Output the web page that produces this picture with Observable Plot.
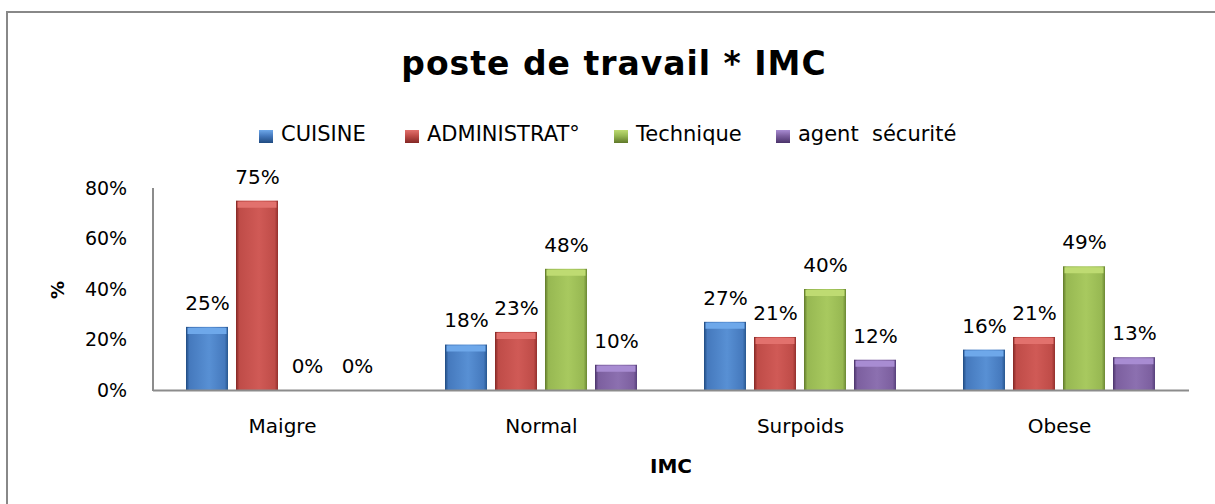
<!DOCTYPE html>
<html>
<head>
<meta charset="utf-8">
<script src="https://cdn.jsdelivr.net/npm/d3@7"></script>
<script src="https://cdn.jsdelivr.net/npm/@observablehq/plot@0.6"></script>
<style>
  html, body { margin: 0; padding: 0; background: #fff; }
  #wrap { position: relative; width: 1215px; height: 504px; overflow: hidden; font-family: "DejaVu Sans", sans-serif; color: #000; }
  #frame { position: absolute; left: 6px; top: 11px; width: 1400px; height: 700px; border: 2px solid #888; box-sizing: border-box; }
  #chart { position: absolute; left: 0; top: 0; }
  .ov { position: absolute; line-height: 1; white-space: pre; }
  #title { left: 0; width: 1228px; text-align: center; top: 47px; font-size: 33px; font-weight: bold; letter-spacing: 1px; }
  .leg { position: absolute; top: 124px; font-size: 21px; line-height: 1; white-space: pre; }
  .sw { position: absolute; width: 14px; height: 13px; top: 130px; }
  #xlab { left: 0; width: 1342px; text-align: center; top: 456px; font-size: 20px; font-weight: bold; }
  #ylab { left: 58px; top: 290px; font-size: 18px; font-weight: bold; transform: translate(-50%, -50%) rotate(-90deg); }
</style>
</head>
<body>
<div id="wrap">
  <div id="frame"></div>
  <div id="chart"></div>
  <div id="title" class="ov">poste de travail * IMC</div>
  <div id="legend"></div>
  <div id="xlab" class="ov">IMC</div>
  <div id="ylab" class="ov">%</div>
</div>
<script>
const categories = ["Maigre", "Normal", "Surpoids", "Obese"];
const seriesNames = ["CUISINE", "ADMINISTRAT°", "Technique", "agent  sécurité"];
const cuisine = [0.25, 0.18, 0.27, 0.16];
const administratif = [0.75, 0.23, 0.21, 0.21];
const technique = [0.00, 0.48, 0.40, 0.49];
const agentSecurite = [0.00, 0.10, 0.12, 0.13];
const yTicks = [0, 0.2, 0.4, 0.6, 0.8];

const seriesValues = [cuisine, administratif, technique, agentSecurite];
const gradIds = ["gBlue", "gRed", "gGreen", "gPurple"];
const capColors = ["#6ea8ea", "#e2716d", "#bedb72", "#a88cd2"];
const legendLeft = [259, 405, 614, 776];

const data = [];
seriesNames.forEach((s, i) => {
  categories.forEach((c, j) => {
    data.push({imc: c, serie: s, value: seriesValues[i][j], idx: i});
  });
});

const W = 1215, H = 504, mL = 153, mR = 26, mT = 188, mB = 114;
const fxPadIn = 0.25, fxPadOut = 0.125;
const fxStep = (W - mL - mR) / (categories.length - fxPadIn + 2 * fxPadOut);
const firstFacetOffset = fxStep * fxPadOut;

const marks = [];
seriesNames.forEach((s, i) => {
  const sub = data.filter(d => d.serie === s && d.value > 0);
  marks.push(Plot.barY(sub, {fx: "imc", x: "serie", y: "value", fill: `url(#${gradIds[i]})`}));
  marks.push(Plot.tickY(sub, {fx: "imc", x: "serie", y: "value", stroke: capColors[i], strokeWidth: 6, dy: 3.5, insetLeft: 1.5, insetRight: 1.5}));
});
marks.push(Plot.text(data, {fx: "imc", x: "serie", y: "value", text: d => Math.round(d.value * 100) + "%", dy: -24, fontSize: 20}));
marks.push(Plot.axisY({ticks: yTicks, tickFormat: d => Math.round(d * 100) + "%", tickSize: 0, tickPadding: 26 + firstFacetOffset, fontSize: 19, label: null}));
marks.push(Plot.axisFx({anchor: "bottom", tickSize: 0, tickPadding: 28, fontSize: 20, label: null}));

const svg = Plot.plot({
  width: W, height: H,
  marginLeft: mL, marginRight: mR, marginTop: mT, marginBottom: mB,
  style: {fontFamily: "DejaVu Sans", fontSize: "20px", color: "#000", background: "transparent", overflow: "visible"},
  fx: {domain: categories, paddingInner: fxPadIn, paddingOuter: fxPadOut},
  x: {domain: seriesNames, paddingInner: 0.16, paddingOuter: 0, axis: null},
  y: {domain: [0, 0.8], axis: null},
  marks
});

// gradient defs
const defs = d3.select(svg).insert("defs", ":first-child");
const gradSpecs = [
  ["#1f4a80", "#4579bd", "#5890d4", "#28578f"],
  ["#832724", "#bf4c48", "#d05a56", "#93302d"],
  ["#5f7829", "#97b852", "#a8c95f", "#6b8834"],
  ["#4a336a", "#7c5f9f", "#8c70b0", "#56407b"]
];
gradIds.forEach((id, i) => {
  const g = defs.append("linearGradient").attr("id", id).attr("x1", 0).attr("x2", 1).attr("y1", 0).attr("y2", 0);
  const c = gradSpecs[i];
  g.append("stop").attr("offset", "0%").attr("stop-color", c[0]);
  g.append("stop").attr("offset", "8%").attr("stop-color", c[1]);
  g.append("stop").attr("offset", "55%").attr("stop-color", c[2]);
  g.append("stop").attr("offset", "92%").attr("stop-color", c[1]);
  g.append("stop").attr("offset", "100%").attr("stop-color", c[3]);
});

// axis lines from the plot's own y scale
const ys = svg.scale("y");
const y0 = ys.apply(0), yTop = ys.apply(yTicks[yTicks.length - 1]);
d3.select(svg).append("line").attr("x1", mL).attr("x2", mL).attr("y1", yTop).attr("y2", y0 + 1)
  .attr("stroke", "#8c8c8c").attr("stroke-width", 2);
d3.select(svg).append("line").attr("x1", mL).attr("x2", W - mR).attr("y1", y0 + 0.5).attr("y2", y0 + 0.5)
  .attr("stroke", "#8c8c8c").attr("stroke-width", 2);

document.getElementById("chart").appendChild(svg);

// legend
const leg = document.getElementById("legend");
seriesNames.forEach((s, i) => {
  const sw = document.createElement("div");
  sw.className = "sw";
  sw.style.left = legendLeft[i] + "px";
  const c = gradSpecs[i];
  sw.style.background = `linear-gradient(to bottom, ${capColors[i]} 0%, ${c[1]} 45%, ${c[0]} 100%)`;
  leg.appendChild(sw);
  const t = document.createElement("div");
  t.className = "leg";
  t.style.left = (legendLeft[i] + 22) + "px";
  t.textContent = s;
  leg.appendChild(t);
});
</script>
</body>
</html>
